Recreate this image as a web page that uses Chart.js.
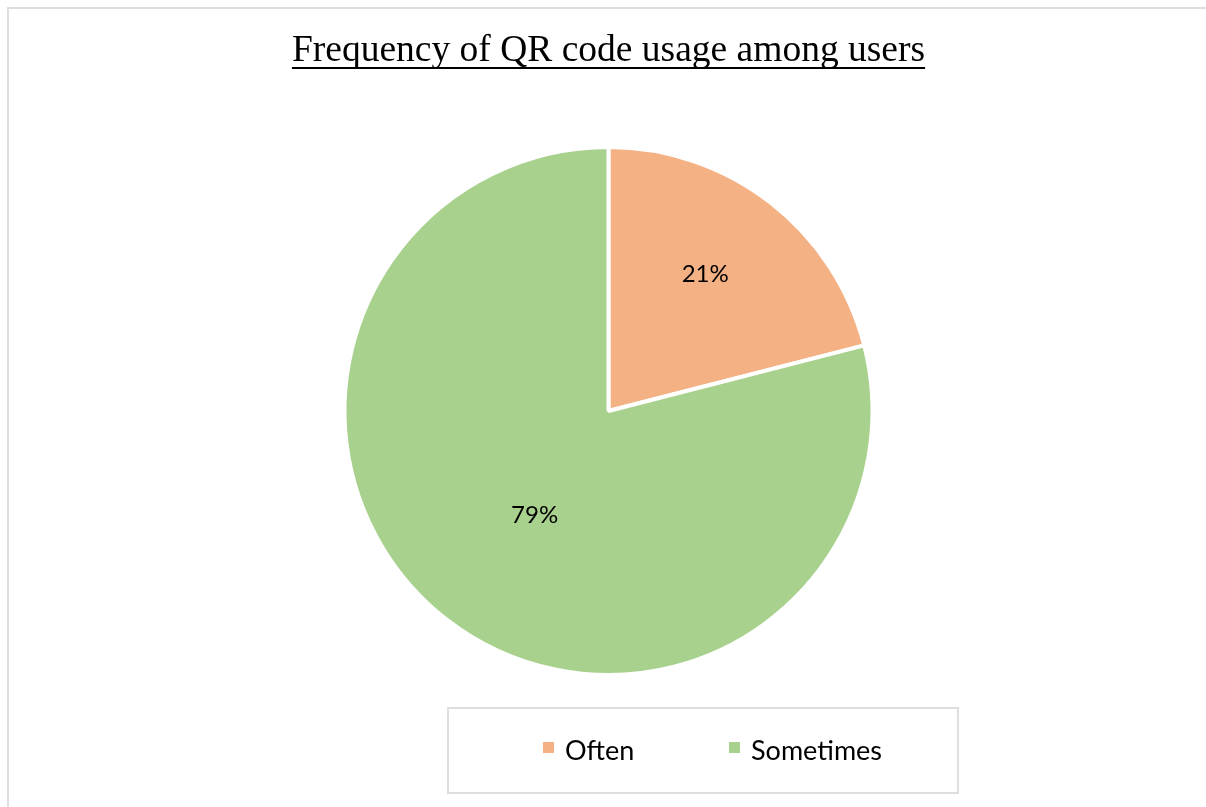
<!DOCTYPE html>
<html>
<head>
<meta charset="utf-8">
<title>Frequency of QR code usage among users</title>
<script src="https://cdn.jsdelivr.net/npm/chart.js@4.4.1/dist/chart.umd.min.js"></script>
<style>
  html, body { margin: 0; padding: 0; background: #fff; }
  #wrap { width: 1206px; height: 807px; position: relative; overflow: hidden; }
</style>
</head>
<body>
<div id="wrap"><canvas id="qrChart" width="1206" height="807"></canvas></div>
<script>
const categorias = ['Often', 'Sometimes'];
const percentuais = [21, 79];
const cores = ['#F4B183', '#A9D18E'];

// labels inside the slices: fraction of the radius and a small angular nudge
const labelRadius = [0.635, 0.485];
const labelNudge = [-0.045, -0.045];

const frame = {
    id: 'frame',
    beforeDraw(chart) {
        const c = chart.ctx;
        c.save();
        c.strokeStyle = '#dedede';
        c.lineWidth = 2;
        c.strokeRect(8, 8, 1400, 1000);
        c.restore();
    }
};

const underline = {
    id: 'underline',
    afterDraw(chart) {
        const t = chart.titleBlock;
        const c = chart.ctx;
        c.save();
        c.font = t.options.font.size + 'px "Liberation Serif"';
        const w = c.measureText(chart.options.plugins.title.text).width;
        const cx = (t.left + t.right) / 2;
        c.fillStyle = '#000';
        c.fillRect(cx - w / 2, 67, w, 2);
        c.restore();
    }
};

const sliceLabels = {
    id: 'sliceLabels',
    afterDatasetsDraw(chart) {
        const c = chart.ctx;
        const meta = chart.getDatasetMeta(0);
        c.save();
        c.font = '24px Lato';
        c.fillStyle = '#000';
        c.textAlign = 'center';
        c.textBaseline = 'middle';
        meta.data.forEach((arc, i) => {
            const p = arc.getProps(['x', 'y', 'startAngle', 'endAngle', 'outerRadius']);
            const mid = (p.startAngle + p.endAngle) / 2 + labelNudge[i];
            const r = p.outerRadius * labelRadius[i];
            c.fillText(percentuais[i] + '%', p.x + Math.cos(mid) * r, p.y + Math.sin(mid) * r);
        });
        c.restore();
    }
};

const boxLegend = {
    id: 'boxLegend',
    afterDraw(chart) {
        const c = chart.ctx;
        c.save();
        c.strokeStyle = '#dedede';
        c.lineWidth = 2;
        c.strokeRect(448, 708, 510, 85);
        c.font = '27px Lato';
        c.textBaseline = 'middle';
        c.textAlign = 'left';
        categorias.forEach((nome, i) => {
            const x = 543 + i * 186;
            c.fillStyle = cores[i];
            c.fillRect(x, 742, 11, 11);
            c.fillStyle = '#000';
            c.fillText(nome, x + 22, 751);
        });
        c.restore();
    }
};

const ctxPie = document.getElementById('qrChart').getContext('2d');
const pieChart = new Chart(ctxPie, {
    type: 'pie',
    data: {
        labels: categorias,
        datasets: [{
            data: percentuais,
            backgroundColor: cores,
            borderColor: '#ffffff',
            borderWidth: 4,
            radius: 264
        }]
    },
    options: {
        responsive: false,
        animation: false,
        layout: {
            padding: { left: 11, right: 0, top: 0, bottom: 64 }
        },
        plugins: {
            title: {
                display: true,
                text: 'Frequency of QR code usage among users',
                color: '#000',
                font: { family: 'Liberation Serif', size: 37.5, weight: 'normal' },
                padding: { top: 29, bottom: 5 }
            },
            legend: { display: false },
            tooltip: { enabled: false }
        }
    },
    plugins: [frame, underline, sliceLabels, boxLegend]
});
</script>
</body>
</html>
